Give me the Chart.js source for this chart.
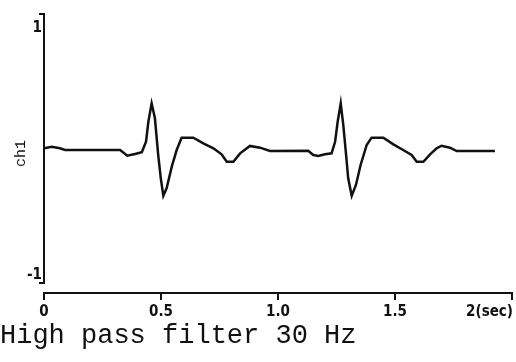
<!DOCTYPE html>
<html><head><meta charset="utf-8">
<script src="https://cdn.jsdelivr.net/npm/chart.js@4"></script>
<style>html,body{margin:0;padding:0;background:#fff;overflow:hidden}#wrap{width:516px;height:362px;position:relative}</style>
</head><body><div id="wrap"><canvas id="c" width="516" height="362"></canvas></div>
<script>
// ---- data ----
const timesSec = [0.000,0.033,0.068,0.090,0.325,0.356,0.389,0.418,0.436,0.446,0.460,0.474,0.488,0.499,0.510,0.524,0.546,0.567,0.588,0.638,0.681,0.724,0.759,0.781,0.809,0.838,0.880,0.923,0.966,1.129,1.151,1.172,1.201,1.229,1.244,1.255,1.268,1.279,1.291,1.300,1.315,1.333,1.353,1.379,1.400,1.450,1.493,1.535,1.571,1.593,1.621,1.650,1.678,1.699,1.735,1.764,1.927];
const ch1Values = [0.026,0.039,0.026,0.012,0.012,-0.034,-0.020,-0.006,0.079,0.241,0.390,0.269,-0.028,-0.215,-0.358,-0.298,-0.123,0.012,0.112,0.112,0.066,0.026,-0.023,-0.083,-0.083,-0.015,0.045,0.031,0.004,0.006,-0.028,-0.036,-0.023,-0.015,0.079,0.241,0.390,0.215,-0.028,-0.217,-0.358,-0.271,-0.109,0.053,0.112,0.112,0.058,0.012,-0.028,-0.083,-0.083,-0.023,0.026,0.047,0.031,0.004,0.004];
const xTickValues = [0, 0.5, 1, 1.5, 2];
const xTickLabels = ['0', '0.5', '1.0', '1.5', '2(sec)'];
const yTickValues = [-1, 1];
const yTickLabels = ['-1', '1'];
const yAxisLabel = 'ch1';
const captionText = 'High pass filter 30 Hz';

// ---- style / layout ----
const INK = '#111';
const TICK_FONT = {family: "'Liberation Sans Narrow','DejaVu Sans Condensed',sans-serif", size: 15, weight: 'bold', lineHeight: 1.2};
const Y_MIN = -1.1457, Y_MAX = 1.1134, Y_AXIS_BOTTOM = -1.065;

const axisDecor = {
  id: 'axisDecor',
  afterDraw(chart) {
    const {ctx, scales: {x, y}} = chart;
    ctx.save();
    ctx.strokeStyle = INK; ctx.lineWidth = 2; ctx.lineCap = 'square';
    const xl = x.getPixelForValue(xTickValues[0]);
    const yt = y.top, yb = y.getPixelForValue(Y_AXIS_BOTTOM);
    ctx.beginPath();
    ctx.moveTo(xl - 4, yt); ctx.lineTo(xl, yt); ctx.lineTo(xl, yb); ctx.lineTo(xl - 4, yb);
    ctx.stroke();
    const last = xTickLabels.length - 1;
    ctx.font = `${TICK_FONT.weight} ${TICK_FONT.size}px ${TICK_FONT.family}`;
    ctx.fillStyle = INK; ctx.textAlign = 'right'; ctx.textBaseline = 'middle';
    ctx.fillText(xTickLabels[last], x.getPixelForValue(xTickValues[last]) + 1, x.top + 7 + 3 + TICK_FONT.size * TICK_FONT.lineHeight / 2);
    ctx.restore();
  }
};

new Chart(document.getElementById('c'), {
  type: 'line',
  data: {
    datasets: [{
      label: yAxisLabel,
      data: timesSec.map((t, i) => ({x: t, y: ch1Values[i]})),
      borderColor: INK, borderWidth: 2.5, pointRadius: 0, tension: 0, fill: false
    }]
  },
  options: {
    responsive: false, animation: false,
    layout: {padding: {left: 0, right: 4, top: 14, bottom: 0}},
    plugins: {
      legend: {display: false}, tooltip: {enabled: false},
      title: {
        display: true, text: captionText, position: 'bottom', align: 'start', color: INK,
        font: {family: "'Liberation Mono','DejaVu Sans Mono',monospace", size: 27, weight: 'normal', lineHeight: 1.0},
        padding: {top: 0, bottom: 13}
      }
    },
    scales: {
      x: {
        type: 'linear', min: 0, max: 2,
        afterBuildTicks: s => { s.ticks = xTickValues.map(v => ({value: v})); },
        afterFit: s => { s.height = 29; },
        grid: {display: true, drawOnChartArea: false, drawTicks: true, tickLength: 7, color: INK, lineWidth: 2},
        border: {display: true, color: INK, width: 2},
        ticks: {
          color: INK, font: TICK_FONT, padding: 3, autoSkip: false, maxRotation: 0,
          callback: (v, i) => i === xTickLabels.length - 1 ? '' : xTickLabels[i]
        }
      },
      y: {
        type: 'linear', min: Y_MIN, max: Y_MAX,
        afterBuildTicks: s => { s.ticks = yTickValues.map(v => ({value: v})); },
        afterFit: s => { s.width = 44; },
        grid: {display: false, drawTicks: false},
        border: {display: false},
        ticks: {color: INK, font: TICK_FONT, padding: 2, callback: (v, i) => yTickLabels[i]},
        title: {
          display: true, text: yAxisLabel, color: INK,
          font: {family: "'Liberation Mono','DejaVu Sans Mono',monospace", size: 15},
          padding: {top: 12, bottom: 0}
        }
      }
    }
  },
  plugins: [axisDecor]
});
</script></body></html>
